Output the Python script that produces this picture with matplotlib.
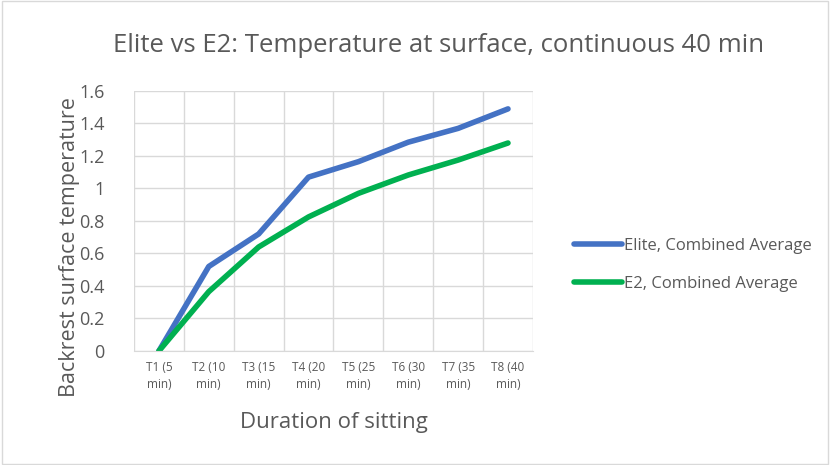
import matplotlib
matplotlib.use("Agg")
import matplotlib.pyplot as plt

categories = ["T1 (5\nmin)", "T2 (10\nmin)", "T3 (15\nmin)", "T4 (20\nmin)",
              "T5 (25\nmin)", "T6 (30\nmin)", "T7 (35\nmin)", "T8 (40\nmin)"]
elite = [0.0, 0.52, 0.72, 1.07, 1.165, 1.285, 1.37, 1.49]
e2 = [0.0, 0.365, 0.64, 0.825, 0.97, 1.083, 1.175, 1.28]
yticks = [0, 0.2, 0.4, 0.6, 0.8, 1, 1.2, 1.4, 1.6]
ytick_labels = ["0", "0.2", "0.4", "0.6", "0.8", "1", "1.2", "1.4", "1.6"]

TEXT = "#595959"
plt.rcParams["font.family"] = ["Open Sans", "DejaVu Sans"]

fig = plt.figure(figsize=(8.3, 4.65), dpi=100)
ax = fig.add_axes([0.1614, 0.2452, 0.4807, 0.5591])

x = list(range(len(categories)))
ax.plot(x, elite, color="#4472C4", linewidth=4, solid_capstyle="round",
        solid_joinstyle="round", label="Elite, Combined Average")
ax.plot(x, e2, color="#00B050", linewidth=4, solid_capstyle="round",
        solid_joinstyle="round", label="E2, Combined Average")

ax.set_xlim(-0.5, len(categories) - 0.5)
ax.set_ylim(0, 1.6)
ax.set_yticks(yticks)
ax.set_yticklabels(ytick_labels, fontsize=13, color=TEXT)
ax.set_xticks(x)
ax.set_xticklabels(categories, fontsize=8.5, color=TEXT, linespacing=1.45)
ax.set_xticks([i - 0.5 for i in range(len(categories) + 1)], minor=True)
ax.grid(True, which="minor", axis="x", color="#D9D9D9", linewidth=1)
ax.grid(True, which="major", axis="y", color="#D9D9D9", linewidth=1)
ax.tick_params(which="both", length=0)
ax.tick_params(axis="y", pad=21)
ax.tick_params(axis="x", pad=7)
for side in ("top", "right", "left"):
    ax.spines[side].set_visible(False)
ax.spines["bottom"].set_color("#D9D9D9")
ax.set_axisbelow(True)

ax.set_xlabel("Duration of sitting", fontsize=16, color=TEXT, labelpad=15)
ax.set_ylabel("Backrest surface temperature", fontsize=15.5, color=TEXT)
ax.yaxis.set_label_coords(-0.135, 0.40)
fig.text(0.528, 0.903, "Elite vs E2: Temperature at surface, continuous 40 min",
         ha="center", va="center", fontsize=18.5, color=TEXT)

leg = fig.legend(loc="center left", bbox_to_anchor=(0.673, 0.43), frameon=False,
                 fontsize=12, labelcolor=TEXT, handlelength=2.9,
                 handletextpad=0.15, labelspacing=1.35)

border = plt.Rectangle((0.003, 0.003), 0.994, 0.994, transform=fig.transFigure,
                       fill=False, edgecolor="#D9D9D9", linewidth=1)
fig.add_artist(border)

fig.savefig("out.png", dpi=100)
